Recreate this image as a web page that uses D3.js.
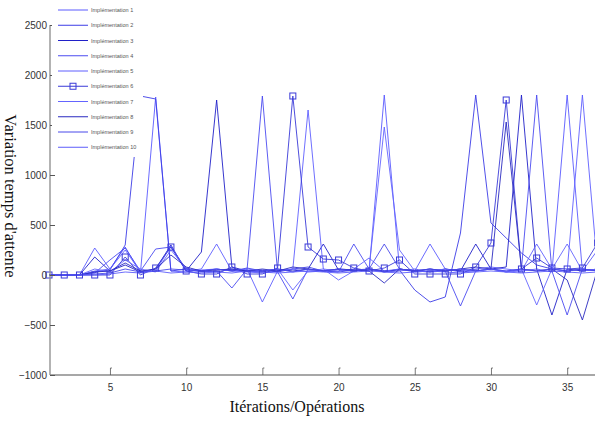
<!DOCTYPE html>
<html>
<head>
<meta charset="utf-8">
<script src="https://cdn.jsdelivr.net/npm/d3@7"></script>
<style>
html,body{margin:0;padding:0;background:#fff;}
svg{display:block;}
</style>
</head>
<body>
<svg id="chart" width="595" height="421"></svg>
<script>
const iterations = d3.range(1, 38);
const seriesNames = ["Implémentation 1","Implémentation 2","Implémentation 3","Implémentation 4","Implémentation 5","Implémentation 6","Implémentation 7","Implémentation 8","Implémentation 9","Implémentation 10"];
const impl1  = [0,0,0,270,60,280,20,1780,40,30,50,60,40,30,20,40,60,30,40,60,50,40,1800,60,40,310,60,40,60,80,60,40,60,30,1800,40,250];
const impl2  = [0,0,0,30,50,300,1790,1760,40,60,40,30,60,40,50,30,60,80,40,30,50,60,40,50,-150,-270,-220,420,1800,520,370,220,100,60,40,60,40];
const impl3  = [0,0,0,180,40,100,30,60,300,40,230,1750,80,40,30,60,40,60,310,50,40,60,30,60,40,30,60,40,310,60,80,1800,60,-400,60,40,60];
const impl4  = [0,0,0,20,150,270,40,260,280,60,30,40,-130,60,1790,30,-240,60,40,30,310,60,30,40,60,30,40,-310,40,60,30,60,1800,40,-400,60,40];
const impl5  = [0,0,0,40,60,250,30,40,290,40,60,310,40,60,-270,40,60,1650,60,40,60,170,40,60,30,40,60,30,40,60,30,40,310,60,40,1800,60];
const impl6  = [0,0,0,0,0,180,0,70,280,40,10,10,80,10,10,70,1790,280,160,150,70,40,70,150,10,10,10,10,80,320,1750,60,170,70,60,70,320];
const impl7  = [0,0,0,60,30,150,60,30,250,60,40,60,40,60,40,60,-150,40,60,-50,40,60,1480,250,40,60,40,60,40,60,40,60,-300,60,310,40,60];
const impl8  = [0,0,0,30,40,120,40,60,200,80,40,50,60,40,60,40,80,60,40,60,50,40,-80,60,40,60,40,60,80,60,1530,60,40,60,-50,-450,60];
const impl9  = [0,0,0,10,20,60,30,40,60,50,40,60,40,70,40,60,30,60,40,60,40,60,310,60,40,60,40,60,40,60,40,60,40,60,40,60,40];
const impl10 = [0,0,0,0,10,30,20,40,20,30,20,30,20,40,30,20,30,40,30,20,30,40,30,20,30,40,30,20,30,40,30,20,30,40,30,20,30];
const seriesValues = [impl1,impl2,impl3,impl4,impl5,impl6,impl7,impl8,impl9,impl10];
const seriesColors = ["#5a5aff","#3c3ce6","#2020c8","#4b4bf0","#5f5fff","#3a3ad8","#6464ff","#2a2ac0","#4848ea","#5c5cfa"];
const yTicks = [-1000,-500,0,500,1000,1500,2000,2500];
const xTicks = [5,10,15,20,25,30,35];

const svg = d3.select("#chart");
const x = d3.scaleLinear().domain([1, 37]).range([49, 49 + 36 * 15.24]);
const y = d3.scaleLinear().domain([-1000, 2500]).range([375, 25]);

const line = d3.line().x((d, i) => x(iterations[i])).y(d => y(d));

const plot = svg.append("g");
seriesValues.forEach((vals, k) => {
  plot.append("path").datum(vals)
    .attr("d", line)
    .attr("fill", "none")
    .attr("stroke", seriesColors[k])
    .attr("stroke-width", 0.9);
});
// markers for Implémentation 6
plot.selectAll("rect.mk").data(impl6).enter().append("rect")
  .attr("class", "mk")
  .attr("x", (d, i) => x(iterations[i]) - 3)
  .attr("y", d => y(d) - 3)
  .attr("width", 6).attr("height", 6)
  .attr("fill", "none")
  .attr("stroke", seriesColors[5])
  .attr("stroke-width", 1);

// axes
const axisColor = "#8a8a8a";
svg.append("line").attr("x1", 50).attr("x2", 50).attr("y1", y(2500)).attr("y2", y(-1000))
  .attr("stroke", axisColor).attr("stroke-width", 1.3);
svg.append("line").attr("x1", 50).attr("x2", 595).attr("y1", 375).attr("y2", 375)
  .attr("stroke", axisColor).attr("stroke-width", 1.3);

const yAxis = d3.axisRight(y).tickValues(yTicks).tickSize(5).tickFormat(d3.format("d"));
const gy = svg.append("g").attr("transform", "translate(50,0)").call(yAxis);
gy.select(".domain").remove();
gy.selectAll(".tick line").attr("stroke", "#555");
gy.selectAll(".tick text").attr("x", -3).attr("text-anchor", "end")
  .attr("font-family", "Liberation Sans, Arial, sans-serif").attr("font-size", 10).attr("fill", "#333");

const xAxis = d3.axisBottom(x).tickValues(xTicks).tickSize(0).tickPadding(9);
const gx = svg.append("g").attr("transform", "translate(0,375)").call(xAxis);
gx.select(".domain").remove();
gx.selectAll(".tick text").attr("font-family", "Liberation Sans, Arial, sans-serif").attr("font-size", 10).attr("fill", "#333");
gx.selectAll(".tick").append("path").attr("d", "M0,0V-7h1.5").attr("fill", "none").attr("stroke", "#555").attr("stroke-width", 0.8);

// titles
svg.append("text").attr("x", 297).attr("y", 412).attr("text-anchor", "middle")
  .attr("font-family", "Liberation Serif, DejaVu Serif, serif").attr("font-size", 16).attr("fill", "#111")
  .text("Itérations/Opérations");
svg.append("text").attr("transform", "translate(5,196) rotate(90)").attr("text-anchor", "middle")
  .attr("font-family", "Liberation Serif, DejaVu Serif, serif").attr("font-size", 16.5).attr("fill", "#111")
  .text("Variation temps d'attente");

// legend
const lg = svg.append("g");
lg.append("rect").attr("x", 52).attr("y", 0).attr("width", 91).attr("height", 157).attr("fill", "#fff");
seriesNames.forEach((name, k) => {
  const ly = 10 + k * 15.25;
  lg.append("line").attr("x1", 58).attr("x2", 88).attr("y1", ly).attr("y2", ly)
    .attr("stroke", seriesColors[k]).attr("stroke-width", 1);
  if (k === 5) {
    lg.append("rect").attr("x", 70).attr("y", ly - 3).attr("width", 6).attr("height", 6)
      .attr("fill", "none").attr("stroke", seriesColors[k]).attr("stroke-width", 1);
  }
  lg.append("text").attr("x", 91).attr("y", ly + 2).attr("font-family", "Liberation Sans, Arial, sans-serif")
    .attr("font-size", 5.5).attr("fill", "#555").text(name);
});
</script>
</body>
</html>
